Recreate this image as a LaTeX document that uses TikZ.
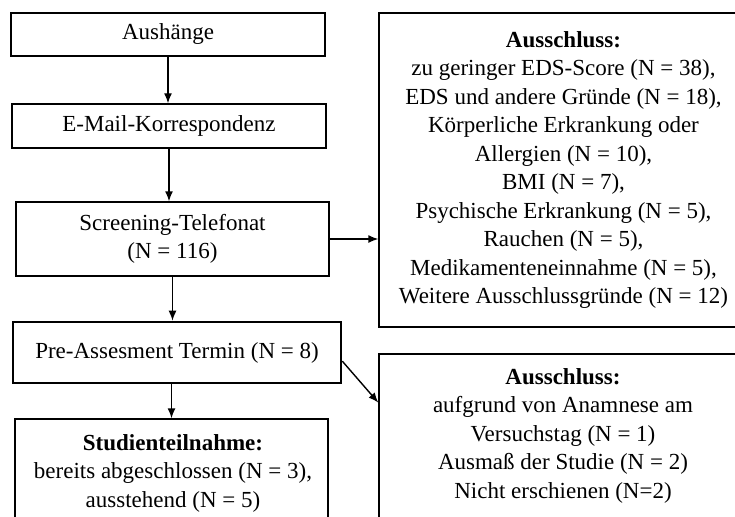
\documentclass[tikz,border=0pt]{standalone}
\usepackage{fontspec}
\setmainfont{Liberation Serif}
\usetikzlibrary{arrows.meta}

\begin{document}
\begin{tikzpicture}[x=1pt, y=-1pt, >={Latex[length=10pt,width=8pt]}]
    \tikzstyle{box} = [draw=black, line width=1.4pt, fill=white, inner sep=0pt, align=center, font=\fontsize{23}{28.5}\selectfont]
    \tikzstyle{txt} = [inner sep=0pt, align=center, font=\fontsize{23}{28.5}\selectfont]
    \tikzstyle{link} = [->, line width=1.4pt]
    \path[use as bounding box, clip] (0,0) rectangle (735,516);

    % left column
    \node[box, minimum width=314pt, minimum height=43pt] (aush) at (168,34.5) {Aushänge};
    \node[box, minimum width=314pt, minimum height=44pt] (mail) at (169,126) {E-Mail-Korrespondenz};
    \node[box, minimum width=313pt, minimum height=74pt] (screen) at (172.5,239) {Screening-Telefonat\\(N = 116)};
    \node[box, line width=2.6pt, minimum width=328pt, minimum height=61pt] (pre) at (177,352.5) {Pre-Assesment Termin (N = 8)};
    \node[box, minimum width=313pt, minimum height=130pt] (studie) at (171.5,484) {};
    \node[txt] (studietxt) at (173,473) {\textbf{Studienteilnahme:}\\bereits abgeschlossen (N = 3),\\ausstehend (N = 5)};

    % right column
    \node[box, minimum width=369pt, minimum height=314pt] (aus1) at (563.5,170) {\textbf{Ausschluss:}\\zu geringer EDS-Score (N = 38),\\EDS und andere Gründe (N = 18),\\Körperliche Erkrankung oder\\Allergien (N = 10),\\BMI (N = 7),\\Psychische Erkrankung (N = 5),\\Rauchen (N = 5),\\Medikamenteneinnahme (N = 5),\\Weitere Ausschlussgründe (N = 12)};
    \node[box, minimum width=369pt, minimum height=176pt] (aus2) at (563.5,442) {};
    \node[txt] (aus2txt) at (563,435.5) {\textbf{Ausschluss:}\\aufgrund von Anamnese am\\Versuchstag (N = 1)\\Ausmaß der Studie (N = 2)\\Nicht erschienen (N=2)};

    \draw[link] (aush.south) -- (aush.south |- mail.north);
    \draw[link] (mail.south) -- (mail.south |- screen.north);
    \draw[link] (screen.south) -- (screen.south |- pre.north);
    \draw[link] (pre.south -| studie.north) -- (studie.north);
    \draw[link] (screen.east) -- (screen.east -| aus1.west);
    \draw[link] (pre.-3) -- (aus2.168);
\end{tikzpicture}
\end{document}
